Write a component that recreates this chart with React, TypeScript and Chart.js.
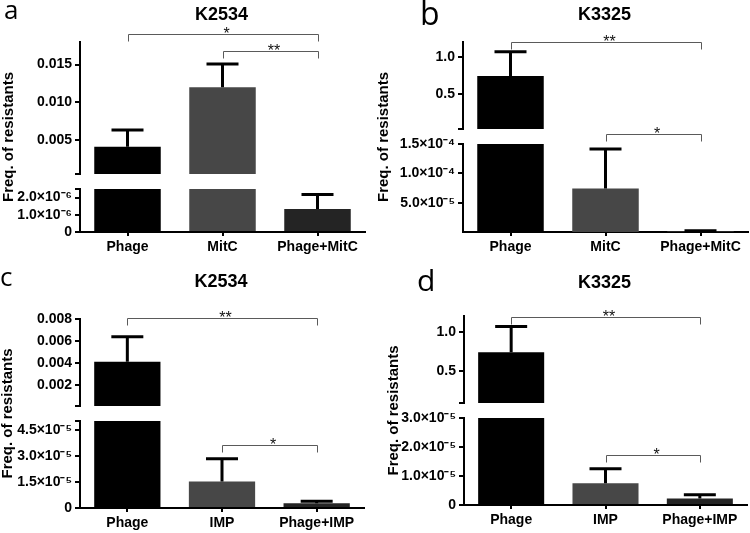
import React, { useEffect, useRef } from 'react';
import { Chart, registerables } from 'chart.js';

Chart.register(...registerables);

const FONT = '"Liberation Sans", Arial, Helvetica, sans-serif';
Chart.defaults.font.family = FONT;

// ---------------- data: panel a (K2534, MitC) ----------------
const catsA = ['Phage', 'MitC', 'Phage+MitC'];
const meanA = [0.0041, 0.012, 1.33e-6];
const errA = [0.00223, 0.00307, 0.85e-6];
const topRangeA = [0.0005, 0.018];
const botRangeA = [0, 2.5e-6];
const topTicksA = [0.0005, 0.005, 0.01, 0.015];
const topLabelsA = ['', '0.005', '0.010', '0.015'];
const botTicksA = [0, 1e-6, 2e-6, 2.5e-6];
const botLabelsA = ['0', '1.0×10⁻⁶', '2.0×10⁻⁶', ''];
const sigA = [
  { from: 0, to: 2, axis: 'yTop', value: 0.01902, label: '*' },
  { from: 1, to: 2, axis: 'yTop', value: 0.01685, label: '**' },
];

// ---------------- data: panel b (K3325, MitC) ----------------
const catsB = ['Phage', 'MitC', 'Phage+MitC'];
const meanB = [0.743, 7.4e-5, 1.5e-6];
const errB = [0.327, 6.75e-5, 0.8e-6];
const topRangeB = [0.03, 1.2];
const botRangeB = [0, 1.5e-4];
const topTicksB = [0.03, 0.5, 1.0];
const topLabelsB = ['', '0.5', '1.0'];
const botTicksB = [0, 5e-5, 1e-4, 1.5e-4];
const botLabelsB = [null, '5.0×10⁻⁵', '1.0×10⁻⁴', '1.5×10⁻⁴'];
const sigB = [
  { from: 0, to: 2, axis: 'yTop', value: 1.2, label: '**' },
  { from: 1, to: 2, axis: 'yBot', value: 1.665e-4, label: '*' },
];

// ---------------- data: panel c (K2534, IMP) ----------------
const catsC = ['Phage', 'IMP', 'Phage+IMP'];
const meanC = [0.0041, 1.52e-5, 2.7e-6];
const errC = [0.00227, 1.31e-5, 1.2e-6];
const topRangeC = [0.00005, 0.008];
const botRangeC = [0, 5e-5];
const topTicksC = [0.00005, 0.002, 0.004, 0.006, 0.008];
const topLabelsC = ['', '0.002', '0.004', '0.006', '0.008'];
const botTicksC = [0, 1.5e-5, 3e-5, 4.5e-5, 5e-5];
const botLabelsC = ['0', '1.5×10⁻⁵', '3.0×10⁻⁵', '4.5×10⁻⁵', ''];
const sigC = [
  { from: 0, to: 2, axis: 'yTop', value: 0.00806, label: '**' },
  { from: 1, to: 2, axis: 'yBot', value: 3.62e-5, label: '*' },
];

// ---------------- data: panel d (K3325, IMP) ----------------
const catsD = ['Phage', 'IMP', 'Phage+IMP'];
const meanD = [0.743, 7.5e-6, 2.2e-6];
const errD = [0.324, 5.0e-6, 1.35e-6];
const topRangeD = [0.1, 1.2];
const botRangeD = [0, 3e-5];
const topTicksD = [0.1, 0.5, 1.0];
const topLabelsD = ['', '0.5', '1.0'];
const botTicksD = [0, 1e-5, 2e-5, 3e-5];
const botLabelsD = ['0', '1.0×10⁻⁵', '2.0×10⁻⁵', '3.0×10⁻⁵'];
const sigD = [
  { from: 0, to: 2, axis: 'yTop', value: 1.187, label: '**' },
  { from: 1, to: 2, axis: 'yBot', value: 1.72e-5, label: '*' },
];

const barColors = ['#000000', '#474747', '#242424'];
const yTitle = 'Freq. of resistants';

const panels = [
  {
    key: 'a', letter: 'a', title: 'K2534', cats: catsA, mean: meanA, err: errA,
    topRange: topRangeA, botRange: botRangeA, topTicks: topTicksA, topLabels: topLabelsA,
    botTicks: botTicksA, botLabels: botLabelsA, sig: sigA,
    layout: { x: 0, y: 0, w: 375, h: 266, axisW: 80, padTop: 42, padRight: 10, xAxisH: 34, weights: [132, 15, 43], titleY: 15, letterX: 4, letterY: 19, letterSize: 26, yTitleX: 9 },
  },
  {
    key: 'b', letter: 'b', title: 'K3325', cats: catsB, mean: meanB, err: errB,
    topRange: topRangeB, botRange: botRangeB, topTicks: topTicksB, topLabels: topLabelsB,
    botTicks: botTicksB, botLabels: botLabelsB, sig: sigB,
    layout: { x: 375, y: 0, w: 375, h: 266, axisW: 88, padTop: 42, padRight: 2, xAxisH: 34, weights: [87, 15, 88], titleY: 15, letterX: 45, letterY: 25, letterSize: 32, yTitleX: 9 },
  },
  {
    key: 'c', letter: 'c', title: 'K2534', cats: catsC, mean: meanC, err: errC,
    topRange: topRangeC, botRange: botRangeC, topTicks: topTicksC, topLabels: topLabelsC,
    botTicks: botTicksC, botLabels: botLabelsC, sig: sigC,
    layout: { x: 0, y: 266, w: 375, h: 267, axisW: 80, padTop: 53, padRight: 11, xAxisH: 25, weights: [87, 15, 87], titleY: 16, letterX: 0, letterY: 20, letterSize: 26, yTitleX: 7.5 },
  },
  {
    key: 'd', letter: 'd', title: 'K3325', cats: catsD, mean: meanD, err: errD,
    topRange: topRangeD, botRange: botRangeD, topTicks: topTicksD, topLabels: topLabelsD,
    botTicks: botTicksD, botLabels: botLabelsD, sig: sigD,
    layout: { x: 375, y: 266, w: 375, h: 267, axisW: 89, padTop: 50, padRight: 3, xAxisH: 28, weights: [87, 15, 87], titleY: 17.5, letterX: 42, letterY: 25, letterSize: 30, yTitleX: 18.5 },
  },
];

function yAxis(p: any, which: 'top' | 'bot') {
  const L = p.layout;
  const range = which === 'top' ? p.topRange : p.botRange;
  const ticks = which === 'top' ? p.topTicks : p.botTicks;
  const labels = which === 'top' ? p.topLabels : p.botLabels;
  return {
    type: 'linear',
    position: 'left',
    stack: 'y',
    stackWeight: which === 'top' ? L.weights[0] : L.weights[2],
    weight: which === 'top' ? 3 : 1,
    min: range[0],
    max: range[1],
    afterBuildTicks: (s: any) => { s.ticks = ticks.map((v: number) => ({ value: v })); },
    afterFit: (s: any) => { s.width = L.axisW; },
    border: { display: true, color: '#000', width: 2 },
    grid: { display: true, drawOnChartArea: false, drawTicks: true, tickLength: 5, color: '#000', lineWidth: 2 },
    ticks: {
      autoSkip: false,
      padding: 3,
      color: '#000',
      font: { family: FONT, size: 14, weight: 'bold' },
      callback: (_v: any, i: number) => labels[i],
    },
  };
}

function Panel({ p }: { p: any }) {
  const ref = useRef<HTMLCanvasElement>(null);
  const L = p.layout;

  useEffect(() => {
    const decor = {
      id: 'decor_' + p.key,
      afterDatasetsDraw(chart: any) {
        const ctx = chart.ctx;
        const x = chart.scales.x;
        ctx.save();
        ctx.strokeStyle = '#000';
        ctx.lineWidth = 3;
        ctx.lineCap = 'butt';
        p.mean.forEach((m: number, i: number) => {
          const s = m > p.topRange[0] ? chart.scales.yTop : chart.scales.yBot;
          const px = x.getPixelForValue(i);
          const y0 = s.getPixelForValue(m);
          const y1 = s.getPixelForValue(m + p.err[i]);
          ctx.beginPath();
          ctx.moveTo(px, y0);
          ctx.lineTo(px, y1);
          ctx.moveTo(px - 16, y1);
          ctx.lineTo(px + 16, y1);
          ctx.stroke();
        });
        ctx.restore();
      },
      afterDraw(chart: any) {
        const ctx = chart.ctx;
        const area = chart.chartArea;
        const x = chart.scales.x;
        ctx.save();
        // significance brackets
        p.sig.forEach((b: any) => {
          const s = chart.scales[b.axis];
          const y = Math.round(s.getPixelForValue(b.value)) + 0.5;
          const x1 = Math.round(x.getPixelForValue(b.from)) + 0.5;
          const x2 = Math.round(x.getPixelForValue(b.to)) + 0.5;
          ctx.strokeStyle = '#5a5a5a';
          ctx.lineWidth = 1;
          ctx.beginPath();
          ctx.moveTo(x1, y + 7);
          ctx.lineTo(x1, y);
          ctx.lineTo(x2, y);
          ctx.lineTo(x2, y + 7);
          ctx.stroke();
          ctx.fillStyle = '#111';
          ctx.font = '16px ' + FONT;
          ctx.textAlign = 'center';
          ctx.textBaseline = 'alphabetic';
          ctx.fillText(b.label, (x1 + x2) / 2 + 3, y + 4);
        });
        // title
        ctx.fillStyle = '#000';
        ctx.font = 'bold 18px ' + FONT;
        ctx.textAlign = 'center';
        ctx.textBaseline = 'middle';
        ctx.fillText(p.title, (area.left + area.right) / 2 - 1, L.titleY);
        // panel letter
        ctx.font = L.letterSize + 'px "Open Sans", "Noto Sans", sans-serif';
        ctx.textAlign = 'left';
        ctx.textBaseline = 'alphabetic';
        ctx.fillText(p.letter, L.letterX, L.letterY);
        // y-axis title
        ctx.translate(L.yTitleX, (area.top + area.bottom) / 2);
        ctx.rotate(-Math.PI / 2);
        ctx.font = 'bold 15px ' + FONT;
        ctx.textAlign = 'center';
        ctx.textBaseline = 'middle';
        ctx.fillText(yTitle, 0, 0);
        ctx.restore();
      },
    };

    const common = {
      backgroundColor: barColors,
      borderWidth: 0,
      grouped: false,
      barPercentage: 0.7,
      categoryPercentage: 1,
      clip: 0,
    };

    const chart = new Chart(ref.current as HTMLCanvasElement, {
      type: 'bar',
      data: {
        labels: p.cats,
        datasets: [
          { ...common, label: 'upper', yAxisID: 'yTop', data: p.mean.map((v: number) => (v > p.topRange[0] ? v : null)) },
          { ...common, label: 'lower', yAxisID: 'yBot', data: p.mean },
        ],
      },
      options: {
        animation: false,
        responsive: false,
        maintainAspectRatio: false,
        devicePixelRatio: 1,
        layout: { padding: { left: 0, right: L.padRight, top: L.padTop, bottom: 0 } },
        plugins: { legend: { display: false }, tooltip: { enabled: false }, title: { display: false } },
        scales: {
          x: {
            type: 'category',
            offset: true,
            afterFit: (s: any) => { s.height = L.xAxisH; },
            border: { display: true, color: '#000', width: 2 },
            grid: { display: true, offset: false, drawOnChartArea: false, drawTicks: true, tickLength: 4, color: '#000', lineWidth: 2 },
            ticks: { autoSkip: false, maxRotation: 0, padding: 3, color: '#000', font: { family: FONT, size: 14, weight: 'bold' } },
          },
          yTop: yAxis(p, 'top'),
          yGap: {
            type: 'linear',
            position: 'left',
            stack: 'y',
            stackWeight: L.weights[1],
            weight: 2,
            min: 0,
            max: 1,
            afterFit: (s: any) => { s.width = L.axisW; },
            border: { display: false },
            grid: { display: false },
            ticks: { display: false },
          },
          yBot: yAxis(p, 'bot'),
        },
      } as any,
      plugins: [decor],
    } as any);
    return () => chart.destroy();
  }, []);

  return (
    <canvas
      ref={ref}
      width={L.w}
      height={L.h}
      style={{ position: 'absolute', left: L.x, top: L.y, width: L.w, height: L.h }}
    />
  );
}

export default function App() {
  useEffect(() => {
    document.body.style.margin = '0';
    document.body.style.background = '#fff';
  }, []);
  return (
    <div style={{ position: 'absolute', left: 0, top: 0, width: 750, height: 533, background: '#fff', overflow: 'hidden' }}>
      {panels.map((p) => (
        <Panel key={p.key} p={p} />
      ))}
    </div>
  );
}
